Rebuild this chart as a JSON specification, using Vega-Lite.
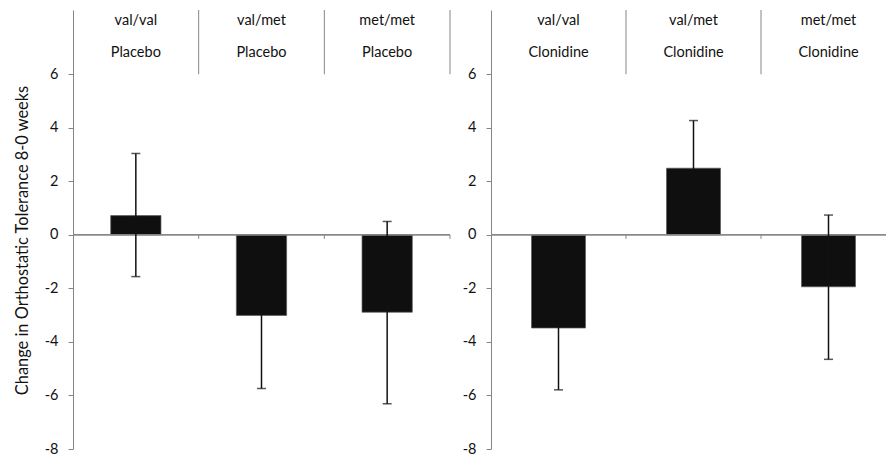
{
  "$schema": "https://vega.github.io/schema/vega-lite/v6.json",
  "padding": {"left": 14, "top": 9, "right": 0, "bottom": 5},
  "background": "white",
  "spacing": 11,
  "config": {
    "font": "Lato",
    "view": {"stroke": null},
    "axis": {"labelFont": "Lato", "titleFont": "Lato", "labelFontSize": 14.5, "labelColor": "#111", "titleColor": "#111", "domainColor": "#868686", "tickColor": "#868686", "grid": false, "labelExpr": "'' + datum.value"}
  },
  "datasets": {
    "bars": [
      {"panel": "Placebo", "geno": "val/val", "mean": 0.72, "lo": -1.56, "hi": 3.04},
      {"panel": "Placebo", "geno": "val/met", "mean": -3.01, "lo": -5.74, "hi": -0.33},
      {"panel": "Placebo", "geno": "met/met", "mean": -2.89, "lo": -6.31, "hi": 0.5},
      {"panel": "Clonidine", "geno": "val/val", "mean": -3.48, "lo": -5.79, "hi": -1.2},
      {"panel": "Clonidine", "geno": "val/met", "mean": 2.49, "lo": 0.7, "hi": 4.27},
      {"panel": "Clonidine", "geno": "met/met", "mean": -1.94, "lo": -4.65, "hi": 0.74}
    ]
  },
  "hconcat": [
    {
      "width": 377,
      "height": 439,
      "data": {"name": "bars"},
      "transform": [{"filter": "datum.panel === 'Placebo'"}],
      "encoding": {
        "x": {"field": "geno", "type": "nominal", "sort": ["val/val", "val/met", "met/met"], "scale": {"paddingInner": 0, "paddingOuter": 0}, "axis": null}
      },
      "layer": [
        {"mark": {"type": "bar", "width": {"band": 0.4}, "fill": "#0f0f0f", "stroke": "#5a5a5a", "strokeWidth": 0.7},
         "encoding": {"y": {"field": "mean", "type": "quantitative", "scale": {"domain": [-8, 8.4], "nice": false, "zero": false},
           "axis": {"values": [-8, -6, -4, -2, 0, 2, 4, 6], "tickSize": 5, "labelPadding": 10, "title": "Change in Orthostatic Tolerance 8-0 weeks", "titleFontSize": 16.4, "titleFontWeight": "normal", "titlePadding": 14, "titleY": 230}}, "y2": {"datum": 0}}},
        {"mark": {"type": "rule", "color": "#868686", "strokeWidth": 1}, "encoding": {"x": null, "y": {"datum": 0}}},
        {"mark": {"type": "rule", "color": "#868686", "strokeWidth": 1}, "encoding": {"x": {"field": "geno", "type": "nominal", "sort": ["val/val", "val/met", "met/met"], "bandPosition": 1}, "y": {"datum": 0}, "y2": {"datum": -0.15}}},
        {"mark": {"type": "rule", "color": "#868686", "strokeWidth": 1}, "encoding": {"x": {"field": "geno", "type": "nominal", "sort": ["val/val", "val/met", "met/met"], "bandPosition": 1}, "y": {"datum": 6}, "y2": {"datum": 8.4}}},
        {"mark": {"type": "rule", "color": "#111", "strokeWidth": 1.5}, "encoding": {"y": {"field": "lo", "type": "quantitative"}, "y2": {"field": "hi"}}},
        {"mark": {"type": "tick", "color": "#111", "size": 9, "thickness": 1.5}, "encoding": {"y": {"field": "lo", "type": "quantitative"}}},
        {"mark": {"type": "tick", "color": "#111", "size": 9, "thickness": 1.5}, "encoding": {"y": {"field": "hi", "type": "quantitative"}}},
        {"mark": {"type": "text", "fontSize": 14.5, "color": "#111", "baseline": "middle"}, "encoding": {"y": {"datum": 8.0}, "text": {"field": "geno"}}},
        {"mark": {"type": "text", "fontSize": 14.5, "color": "#111", "baseline": "middle"}, "encoding": {"y": {"datum": 6.8}, "text": {"field": "panel"}}}
      ]
    },
    {
      "width": 395,
      "height": 439,
      "data": {"name": "bars"},
      "transform": [{"filter": "datum.panel === 'Clonidine'"}],
      "encoding": {
        "x": {"field": "geno", "type": "nominal", "sort": ["val/val", "val/met", "met/met"], "scale": {"paddingInner": 0, "paddingOuter": 0, "range": [0, 405]}, "axis": null}
      },
      "layer": [
        {"mark": {"type": "bar", "width": {"band": 0.4}, "fill": "#0f0f0f", "stroke": "#5a5a5a", "strokeWidth": 0.7},
         "encoding": {"y": {"field": "mean", "type": "quantitative", "scale": {"domain": [-8, 8.4], "nice": false, "zero": false},
           "axis": {"values": [-8, -6, -4, -2, 0, 2, 4, 6], "tickSize": 5, "labelPadding": 10, "title": null}}, "y2": {"datum": 0}}},
        {"mark": {"type": "rule", "color": "#868686", "strokeWidth": 1}, "encoding": {"x": null, "y": {"datum": 0}}},
        {"mark": {"type": "rule", "color": "#868686", "strokeWidth": 1, "clip": true}, "encoding": {"x": {"field": "geno", "type": "nominal", "sort": ["val/val", "val/met", "met/met"], "bandPosition": 1}, "y": {"datum": 0}, "y2": {"datum": -0.15}}},
        {"mark": {"type": "rule", "color": "#868686", "strokeWidth": 1, "clip": true}, "encoding": {"x": {"field": "geno", "type": "nominal", "sort": ["val/val", "val/met", "met/met"], "bandPosition": 1}, "y": {"datum": 6}, "y2": {"datum": 8.4}}},
        {"mark": {"type": "rule", "color": "#111", "strokeWidth": 1.5}, "encoding": {"y": {"field": "lo", "type": "quantitative"}, "y2": {"field": "hi"}}},
        {"mark": {"type": "tick", "color": "#111", "size": 9, "thickness": 1.5}, "encoding": {"y": {"field": "lo", "type": "quantitative"}}},
        {"mark": {"type": "tick", "color": "#111", "size": 9, "thickness": 1.5}, "encoding": {"y": {"field": "hi", "type": "quantitative"}}},
        {"mark": {"type": "text", "fontSize": 14.5, "color": "#111", "baseline": "middle"}, "encoding": {"y": {"datum": 8.0}, "text": {"field": "geno"}}},
        {"mark": {"type": "text", "fontSize": 14.5, "color": "#111", "baseline": "middle"}, "encoding": {"y": {"datum": 6.8}, "text": {"field": "panel"}}}
      ]
    }
  ]
}
